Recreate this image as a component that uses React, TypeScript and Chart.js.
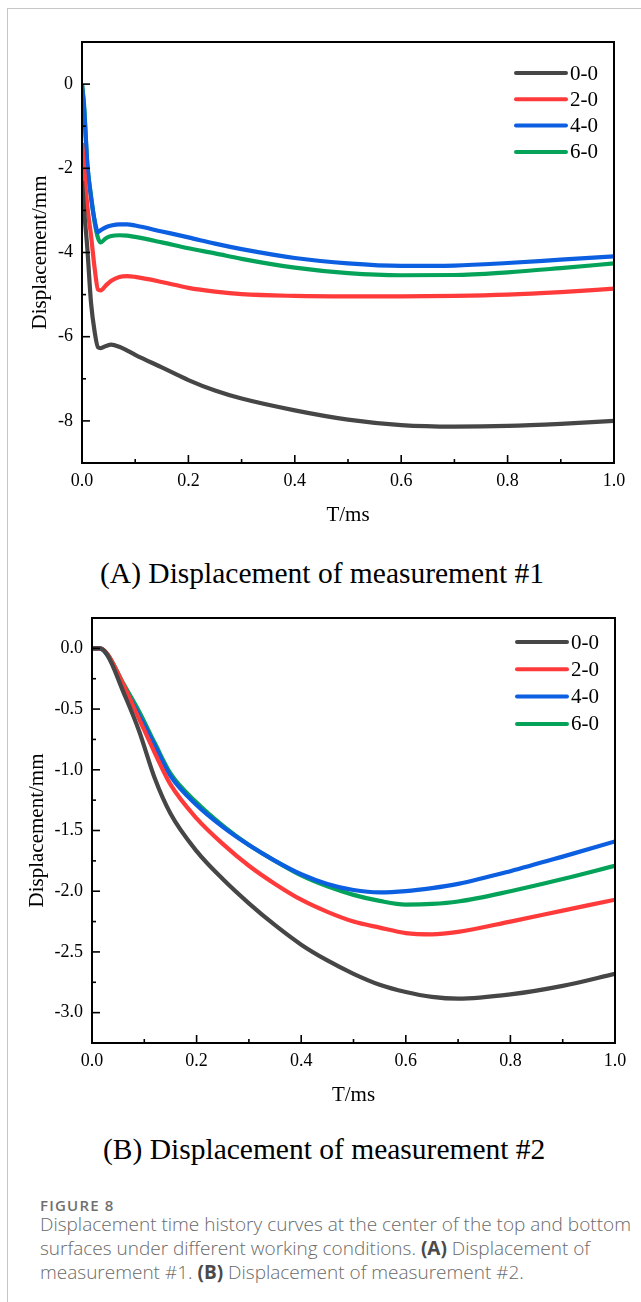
import React, { useEffect, useRef } from 'react';
import { Chart, registerables } from 'chart.js';

Chart.register(...registerables);

// ---------- data ----------
const seriesNames = ['0-0', '2-0', '4-0', '6-0'];
const seriesColors = ['#464646', '#ff3a3a', '#0b5fe0', '#05a35a'];

// Panel A: measurement #1
const timeA = [0, 0.004, 0.01, 0.017, 0.024, 0.03, 0.035, 0.045, 0.055, 0.07, 0.085, 0.1, 0.15, 0.2, 0.25, 0.3, 0.4, 0.5, 0.6, 0.7, 0.8, 0.9, 1.0];
const dispA00 = [-2.3, -3.0, -3.9, -5.2, -5.9, -6.25, -6.27, -6.22, -6.19, -6.24, -6.33, -6.43, -6.73, -7.03, -7.28, -7.47, -7.75, -7.97, -8.1, -8.135, -8.12, -8.07, -8.0];
const dispA20 = [-1.4, -2.0, -2.9, -3.6, -4.4, -4.88, -4.9, -4.78, -4.67, -4.58, -4.56, -4.58, -4.7, -4.84, -4.93, -4.99, -5.03, -5.04, -5.04, -5.03, -5.0, -4.94, -4.86];
const dispA40 = [0, -0.6, -1.9, -2.7, -3.25, -3.52, -3.47, -3.4, -3.36, -3.33, -3.33, -3.36, -3.5, -3.64, -3.79, -3.92, -4.13, -4.26, -4.32, -4.31, -4.25, -4.17, -4.09];
const dispA60 = [0, -0.5, -1.9, -2.65, -3.3, -3.65, -3.76, -3.66, -3.61, -3.59, -3.6, -3.63, -3.76, -3.9, -4.02, -4.15, -4.36, -4.49, -4.54, -4.535, -4.47, -4.37, -4.26];

// Panel B: measurement #2
const timeB = [0, 0.015, 0.03, 0.06, 0.09, 0.12, 0.15, 0.2, 0.25, 0.3, 0.35, 0.4, 0.45, 0.5, 0.55, 0.6, 0.65, 0.7, 0.8, 0.9, 1.0];
const dispB00 = [0, 0, -0.06, -0.36, -0.68, -1.07, -1.36, -1.67, -1.9, -2.1, -2.28, -2.44, -2.57, -2.68, -2.77, -2.83, -2.87, -2.885, -2.85, -2.78, -2.68];
const dispB20 = [0, 0, -0.05, -0.3, -0.58, -0.86, -1.12, -1.4, -1.61, -1.79, -1.94, -2.07, -2.17, -2.25, -2.3, -2.345, -2.355, -2.335, -2.25, -2.16, -2.07];
const dispB40 = [0, 0, -0.06, -0.31, -0.55, -0.8, -1.05, -1.29, -1.47, -1.62, -1.75, -1.86, -1.94, -1.99, -2.01, -2.0, -1.975, -1.94, -1.835, -1.715, -1.59];
const dispB60 = [0, 0, -0.05, -0.29, -0.52, -0.78, -1.03, -1.27, -1.46, -1.62, -1.75, -1.87, -1.96, -2.03, -2.08, -2.11, -2.105, -2.085, -2.0, -1.9, -1.79];

// ticks
const xMajor = [0, 0.2, 0.4, 0.6, 0.8, 1.0];
const xMajorLabels = ['0.0', '0.2', '0.4', '0.6', '0.8', '1.0'];
const xMinor = [0.1, 0.3, 0.5, 0.7, 0.9];
const yMajorA = [0, -2, -4, -6, -8];
const yMajorLabelsA = ['0', '-2', '-4', '-6', '-8'];
const yMinorA = [-1, -3, -5, -7];
const yMajorB = [0, -0.5, -1.0, -1.5, -2.0, -2.5, -3.0];
const yMajorLabelsB = ['0.0', '-0.5', '-1.0', '-1.5', '-2.0', '-2.5', '-3.0'];
const yMinorB = [-0.25, -0.75, -1.25, -1.75, -2.25, -2.75];

const SERIF = "'Liberation Serif', 'Times New Roman', serif";

const decorPlugin = {
  id: 'decor',
  afterDraw(chart: any, _args: any, opts: any) {
    const { ctx, chartArea: ca, scales } = chart;
    const x = scales.x;
    const y = scales.y;
    ctx.save();
    ctx.strokeStyle = '#000';
    ctx.lineWidth = 1.6;
    const tick = (px: number, py: number, dx: number, dy: number) => {
      ctx.beginPath();
      ctx.moveTo(px, py);
      ctx.lineTo(px + dx, py + dy);
      ctx.stroke();
    };
    xMajor.forEach((v) => tick(x.getPixelForValue(v), ca.bottom, 0, -8));
    xMinor.forEach((v) => tick(x.getPixelForValue(v), ca.bottom, 0, -4));
    opts.yMajor.forEach((v: number) => tick(ca.left, y.getPixelForValue(v), 8, 0));
    opts.yMinor.forEach((v: number) => tick(ca.left, y.getPixelForValue(v), 4, 0));
    ctx.lineWidth = 2;
    ctx.strokeRect(ca.left, ca.top, ca.right - ca.left, ca.bottom - ca.top);
    ctx.font = `21px ${SERIF}`;
    ctx.textBaseline = 'middle';
    ctx.textAlign = 'left';
    chart.data.datasets.forEach((ds: any, i: number) => {
      const ry = ca.top + opts.legendTop + i * opts.legendStep;
      ctx.strokeStyle = ds.borderColor;
      ctx.lineWidth = 4;
      ctx.lineCap = 'round';
      ctx.beginPath();
      ctx.moveTo(ca.right - 98, ry);
      ctx.lineTo(ca.right - 48, ry);
      ctx.stroke();
      ctx.fillStyle = '#000';
      ctx.fillText(ds.label, ca.right - 44, ry + 1);
    });
    ctx.restore();
  },
};

function buildConfig(p: any) {
  const datasets = p.series.map((vals: number[], i: number) => ({
    label: seriesNames[i],
    data: p.time.map((t: number, k: number) => ({ x: t, y: vals[k] })),
    borderColor: seriesColors[i],
    backgroundColor: seriesColors[i],
    borderWidth: 4.2,
    pointRadius: 0,
    cubicInterpolationMode: 'monotone',
    fill: false,
  }));
  return {
    type: 'line',
    data: { datasets },
    plugins: [decorPlugin],
    options: {
      animation: false,
      responsive: false,
      events: [],
      layout: { padding: { left: 0, top: p.padTop, right: p.padRight, bottom: 0 } },
      plugins: {
        legend: { display: false },
        tooltip: { enabled: false },
        decor: { yMajor: p.yMajor, yMinor: p.yMinor, legendTop: p.legendTop, legendStep: p.legendStep },
      },
      scales: {
        x: {
          type: 'linear',
          min: 0,
          max: 1,
          grid: { display: false, drawTicks: false },
          border: { display: false },
          afterBuildTicks: (s: any) => { s.ticks = xMajor.map((v) => ({ value: v })); },
          afterFit: (s: any) => { s.height = p.xAxisHeight; },
          ticks: {
            padding: 7,
            color: '#000',
            font: { family: SERIF, size: 18 },
            maxRotation: 0,
            callback: (v: number) => xMajorLabels[xMajor.findIndex((m) => Math.abs(m - v) < 1e-9)],
          },
          title: {
            display: true,
            text: 'T/ms',
            color: '#000',
            font: { family: SERIF, size: 21 },
            padding: { top: 0, bottom: 12 },
          },
        },
        y: {
          type: 'linear',
          min: p.yMin,
          max: p.yMax,
          grid: { display: false, drawTicks: false },
          border: { display: false },
          afterBuildTicks: (s: any) => { s.ticks = p.yMajor.map((v: number) => ({ value: v })); },
          afterFit: (s: any) => { s.width = p.yAxisWidth; },
          ticks: {
            padding: 9,
            color: '#000',
            font: { family: SERIF, size: 18 },
            callback: (v: number) => p.yMajorLabels[p.yMajor.findIndex((m: number) => Math.abs(m - v) < 1e-9)],
          },
          title: {
            display: true,
            text: 'Displacement/mm',
            color: '#000',
            font: { family: SERIF, size: 21 },
            padding: { top: p.yTitlePad, bottom: 0 },
          },
        },
      },
    },
  };
}

function ChartCanvas({ top, height, params }: { top: number; height: number; params: any }) {
  const ref = useRef<HTMLCanvasElement | null>(null);
  useEffect(() => {
    if (!ref.current) return;
    const chart = new Chart(ref.current, buildConfig(params) as any);
    return () => chart.destroy();
  }, []);
  return (
    <canvas
      ref={ref}
      width={641}
      height={height}
      style={{ position: 'absolute', left: 0, top, width: 641, height, display: 'block' }}
    />
  );
}

const paramsA = {
  time: timeA,
  series: [dispA00, dispA20, dispA40, dispA60],
  yMin: -9,
  yMax: 1,
  yMajor: yMajorA,
  yMajorLabels: yMajorLabelsA,
  yMinor: yMinorA,
  padTop: 42,
  padRight: 27,
  yAxisWidth: 82,
  xAxisHeight: 77,
  yTitlePad: 28,
  legendTop: 31,
  legendStep: 26.3,
};

const paramsB = {
  time: timeB,
  series: [dispB00, dispB20, dispB40, dispB60],
  yMin: -3.25,
  yMax: 0.25,
  yMajor: yMajorB,
  yMajorLabels: yMajorLabelsB,
  yMinor: yMinorB,
  padTop: 28,
  padRight: 26,
  yAxisWidth: 92,
  xAxisHeight: 77,
  yTitlePad: 25,
  legendTop: 24,
  legendStep: 27.3,
};

export default function App() {
  const capStyle: React.CSSProperties = {
    position: 'absolute',
    fontFamily: SERIF,
    fontSize: 29.5,
    lineHeight: '34px',
    whiteSpace: 'nowrap',
    color: '#000',
  };
  const sans = "'Open Sans', 'Noto Sans', sans-serif";
  return (
    <div style={{ position: 'absolute', left: 0, top: 0, width: 641, height: 1302, background: '#fff', overflow: 'hidden' }}>
      <div style={{ position: 'absolute', left: 7, top: 8, width: 700, height: 1400, borderLeft: '1px solid #c6c6c6', borderTop: '1px solid #c6c6c6' }} />
      <ChartCanvas top={0} height={540} params={paramsA} />
      <div style={{ ...capStyle, left: 100, top: 556 }}>(A) Displacement of measurement #1</div>
      <ChartCanvas top={590} height={530} params={paramsB} />
      <div style={{ ...capStyle, left: 103, top: 1132 }}>(B) Displacement of measurement #2</div>
      <div style={{ position: 'absolute', left: 40, top: 1195, fontFamily: sans, fontSize: 15, lineHeight: '20px', color: '#707070', fontWeight: 600, letterSpacing: '1.2px' }}>FIGURE 8</div>
      <div style={{ position: 'absolute', left: 40, top: 1212, width: 640, fontFamily: sans, fontSize: 19, fontWeight: 300, lineHeight: '24px', color: '#6a6a6a', whiteSpace: 'nowrap' }}>
        <div>Displacement time history curves at the center of the top and bottom</div>
        <div>surfaces under different working conditions. <b style={{ color: '#4a4a4a', fontWeight: 700 }}>(A)</b> Displacement of</div>
        <div>measurement #1. <b style={{ color: '#4a4a4a', fontWeight: 700 }}>(B)</b> Displacement of measurement #2.</div>
      </div>
    </div>
  );
}
